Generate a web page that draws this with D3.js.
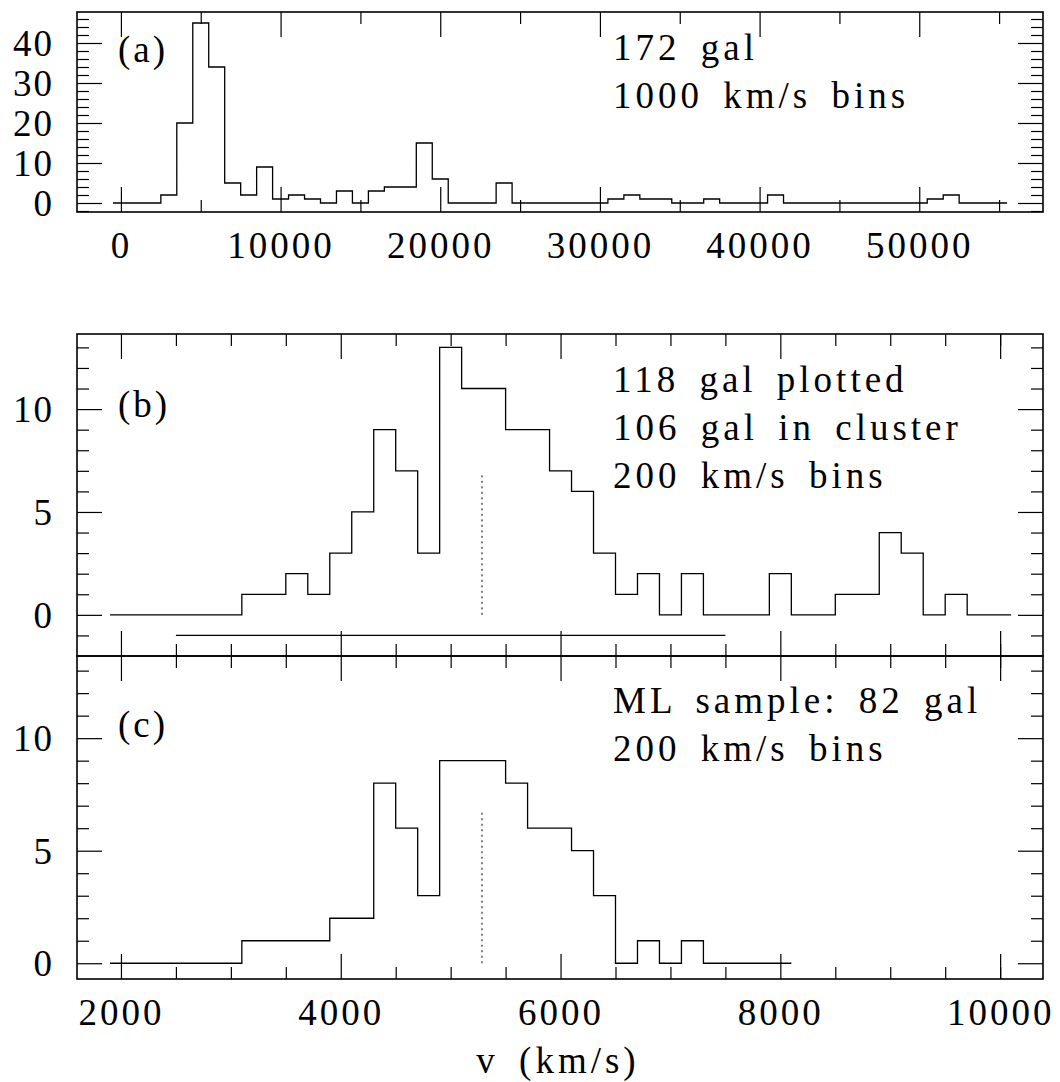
<!DOCTYPE html>
<html>
<head>
<meta charset="utf-8">
<script src="https://cdn.jsdelivr.net/npm/d3@7/dist/d3.min.js"></script>
<style>
  html, body { margin: 0; padding: 0; background: #fff; }
  svg text { font-family: "Liberation Serif", "DejaVu Serif", serif; fill: #000; }
  .tick line { stroke: #000; stroke-width: 1.2; }
</style>
</head>
<body>
<svg id="chart" width="1060" height="1082"></svg>
<script>
// panel (a): all galaxies, 1000 km/s bins (bin centres)
const binsA = [0, 1000, 2000, 3000, 4000, 5000, 6000, 7000, 8000, 9000,
  10000, 11000, 12000, 13000, 14000, 15000, 16000, 17000, 18000, 19000,
  20000, 21000, 22000, 23000, 24000, 25000, 26000, 27000, 28000, 29000,
  30000, 31000, 32000, 33000, 34000, 35000, 36000, 37000, 38000, 39000,
  40000, 41000, 42000, 43000, 44000, 45000, 46000, 47000, 48000, 49000,
  50000, 51000, 52000, 53000, 54000, 55000];
const countsA = [0, 0, 0, 2, 20, 45, 34, 5, 2, 9,
  1, 2, 1, 0, 3, 0, 3, 4, 4, 15,
  6, 0, 0, 0, 5, 0, 0, 0, 0, 0,
  0, 1, 2, 1, 1, 0, 0, 1, 0, 0,
  0, 2, 0, 0, 0, 0, 0, 0, 0, 0,
  0, 1, 2, 0, 0, 0];

// panel (b): 200 km/s bins
const binsB = [2000, 2200, 2400, 2600, 2800, 3000, 3200, 3400, 3600, 3800,
  4000, 4200, 4400, 4600, 4800, 5000, 5200, 5400, 5600, 5800,
  6000, 6200, 6400, 6600, 6800, 7000, 7200, 7400, 7600, 7800,
  8000, 8200, 8400, 8600, 8800, 9000, 9200, 9400, 9600, 9800, 10000];
const countsB = [0, 0, 0, 0, 0, 0, 1, 1, 2, 1,
  3, 5, 9, 7, 3, 13, 11, 11, 9, 9,
  7, 6, 3, 1, 2, 0, 2, 0, 0, 0,
  2, 0, 0, 1, 1, 4, 3, 0, 1, 0, 0];

// panel (c): ML sample, 200 km/s bins
const binsC = [2000, 2200, 2400, 2600, 2800, 3000, 3200, 3400, 3600, 3800,
  4000, 4200, 4400, 4600, 4800, 5000, 5200, 5400, 5600, 5800,
  6000, 6200, 6400, 6600, 6800, 7000, 7200, 7400, 7600, 7800, 8000];
const countsC = [0, 0, 0, 0, 0, 0, 1, 1, 1, 1,
  2, 2, 8, 6, 3, 9, 9, 9, 8, 6,
  6, 5, 3, 0, 1, 0, 1, 0, 0, 0, 0];

// mean velocity marker and cluster range
const meanV = 5285;
const meanHeightB = 6.85;
const meanHeightC = 6.7;
const rangeB = [2500, 7500];
const rangeLevelB = -1;

// axis ticks
const xMajorA = [0, 10000, 20000, 30000, 40000, 50000];
const xMinorA = [5000, 15000, 25000, 35000, 45000, 55000];
const yMajorA = [0, 10, 20, 30, 40];
const yMinorA = [-2, 2, 4, 6, 8, 12, 14, 16, 18, 22, 24, 26, 28, 32, 34, 36, 38, 42, 44, 46];
const xMajorBC = [2000, 4000, 6000, 8000, 10000];
const xMinorBC = [2500, 3000, 3500, 4500, 5000, 5500, 6500, 7000, 7500, 8500, 9000, 9500, 10000];
const yMajorBC = [0, 5, 10];
const yMinorB = [-1, 1, 2, 3, 4, 6, 7, 8, 9, 11, 12, 13];
const yMinorC = [1, 2, 3, 4, 6, 7, 8, 9, 11, 12, 13];

const textA = ["172 gal", "1000 km/s bins"];
const textB = ["118 gal plotted", "106 gal in cluster", "200 km/s bins"];
const textC = ["ML sample: 82 gal", "200 km/s bins"];

const svg = d3.select("#chart");
const left = 77, right = 1043;
const MAJ = 25, MIN = 12;
const FS = 37;

function drawPanel(p) {
  const x = d3.scaleLinear().domain(p.xDomain).range([left, right]);
  const y = d3.scaleLinear().domain(p.yDomain).range([p.bottom, p.top]);
  const g = svg.append("g");
  const w = p.width;

  // histogram as a stepped line
  const pts = p.bins.map(function(b, i) { return [b - w / 2, p.counts[i]]; });
  pts.push([p.bins[p.bins.length - 1] + w / 2, p.counts[p.counts.length - 1]]);
  const line = d3.line()
      .x(function(d) { return x(d[0]); })
      .y(function(d) { return y(d[1]); })
      .curve(d3.curveStepAfter);
  g.append("path").attr("d", line(pts))
      .attr("fill", "none").attr("stroke", "#000").attr("stroke-width", 1.3);

  // ticks on all four sides, pointing inwards
  function ticks(axisFn, scale, values, size, pos, labels) {
    const ax = axisFn(scale).tickValues(values).tickSize(-size)
        .tickFormat(labels ? d3.format("d") : "");
    const a = g.append("g").attr("transform", pos).call(ax);
    a.select(".domain").remove();
    return a;
  }
  const bx = ticks(d3.axisBottom, x, p.xMajor, MAJ, "translate(0," + p.bottom + ")", p.xLabels);
  ticks(d3.axisBottom, x, p.xMinor, MIN, "translate(0," + p.bottom + ")", false);
  ticks(d3.axisTop, x, p.xMajor, MAJ, "translate(0," + p.top + ")", false);
  ticks(d3.axisTop, x, p.xMinor, MIN, "translate(0," + p.top + ")", false);
  const ly = ticks(d3.axisLeft, y, p.yMajor, MAJ, "translate(" + left + ",0)", true);
  ticks(d3.axisLeft, y, p.yMinor, MIN, "translate(" + left + ",0)", false);
  ticks(d3.axisRight, y, p.yMajor, MAJ, "translate(" + right + ",0)", false);
  ticks(d3.axisRight, y, p.yMinor, MIN, "translate(" + right + ",0)", false);

  if (p.xLabels) {
    bx.selectAll("text").attr("y", 46).attr("dy", null)
        .attr("font-size", FS).attr("letter-spacing", 3).attr("font-family", null);
  }
  ly.selectAll("text").attr("x", -23).attr("dy", "0.34em")
      .attr("font-size", FS).attr("letter-spacing", 2).attr("font-family", null);

  // frame
  g.append("rect").attr("x", left).attr("y", p.top)
      .attr("width", right - left).attr("height", p.bottom - p.top)
      .attr("fill", "none").attr("stroke", "#000").attr("stroke-width", 1.6);

  // mean marker
  if (p.meanHeight) {
    g.append("line")
        .attr("x1", x(meanV)).attr("x2", x(meanV))
        .attr("y1", y(0)).attr("y2", y(p.meanHeight))
        .attr("stroke", "#000").attr("stroke-width", 1).attr("stroke-dasharray", "2,3.5");
  }
  if (p.range) {
    g.append("line")
        .attr("x1", x(p.range[0])).attr("x2", x(p.range[1]))
        .attr("y1", y(rangeLevelB)).attr("y2", y(rangeLevelB))
        .attr("stroke", "#000").attr("stroke-width", 1.2);
  }

  // panel tag and notes
  g.append("text").attr("x", 118).attr("y", p.tagY)
      .attr("font-size", FS).attr("letter-spacing", 3).text(p.tag);
  p.notes.forEach(function(t, i) {
    g.append("text").attr("x", 613).attr("y", p.noteY + i * 48)
        .attr("font-size", FS).attr("letter-spacing", 4).attr("word-spacing", 7)
        .text(t);
  });
}

drawPanel({
  bins: binsA, counts: countsA, width: 1000,
  xDomain: [-2750, 57750], yDomain: [-2.25, 47.75], top: 12, bottom: 212,
  xMajor: xMajorA, xMinor: xMinorA, yMajor: yMajorA, yMinor: yMinorA, xLabels: true,
  tag: "(a)", tagY: 62, notes: textA, noteY: 60
});
drawPanel({
  bins: binsB, counts: countsB, width: 200,
  xDomain: [1600, 10390], yDomain: [-2, 13.65], top: 334, bottom: 656,
  xMajor: xMajorBC, xMinor: xMinorBC, yMajor: yMajorBC, yMinor: yMinorB, xLabels: false,
  meanHeight: meanHeightB, range: rangeB,
  tag: "(b)", tagY: 417, notes: textB, noteY: 392
});
drawPanel({
  bins: binsC, counts: countsC, width: 200,
  xDomain: [1600, 10390], yDomain: [-0.7, 13.65], top: 656, bottom: 979,
  xMajor: xMajorBC, xMinor: xMinorBC, yMajor: yMajorBC, yMinor: yMinorC, xLabels: true,
  meanHeight: meanHeightC,
  tag: "(c)", tagY: 737, notes: textC, noteY: 713
});

svg.append("text").attr("x", 558).attr("y", 1073).attr("text-anchor", "middle")
    .attr("font-size", FS).attr("letter-spacing", 4).attr("word-spacing", 7)
    .text("v (km/s)");
</script>
</body>
</html>
